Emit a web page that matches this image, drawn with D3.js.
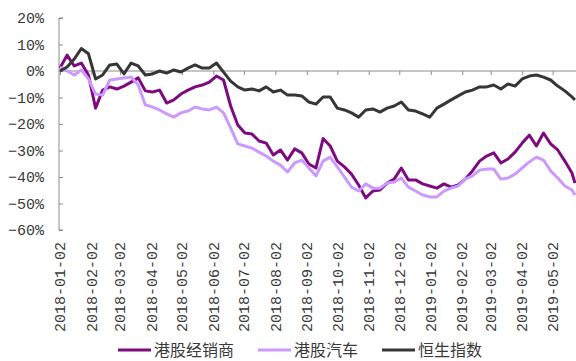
<!DOCTYPE html>
<html>
<head>
<meta charset="utf-8">
<script src="https://cdn.jsdelivr.net/npm/d3@7/dist/d3.min.js"></script>
<style>
  body { margin: 0; background: #fff; }
</style>
</head>
<body>
<svg id="root"></svg>
<script>
// weekly samples (% change since 2018-01-02)
const dates = [
  "2018-01-02","2018-01-09","2018-01-16","2018-01-23","2018-01-30","2018-02-06","2018-02-13","2018-02-20",
  "2018-02-27","2018-03-06","2018-03-13","2018-03-20","2018-03-27","2018-04-03","2018-04-10","2018-04-17",
  "2018-04-24","2018-05-01","2018-05-08","2018-05-15","2018-05-22","2018-05-29","2018-06-05","2018-06-12",
  "2018-06-19","2018-06-26","2018-07-03","2018-07-10","2018-07-17","2018-07-24","2018-07-31","2018-08-07",
  "2018-08-14","2018-08-21","2018-08-28","2018-09-04","2018-09-11","2018-09-18","2018-09-25","2018-10-02",
  "2018-10-09","2018-10-16","2018-10-23","2018-10-30","2018-11-06","2018-11-13","2018-11-20","2018-11-27",
  "2018-12-04","2018-12-11","2018-12-18","2018-12-25","2019-01-01","2019-01-08","2019-01-15","2019-01-22",
  "2019-01-29","2019-02-05","2019-02-12","2019-02-19","2019-02-26","2019-03-05","2019-03-12","2019-03-19",
  "2019-03-26","2019-04-02","2019-04-09","2019-04-16","2019-04-23","2019-04-30","2019-05-07","2019-05-14",
  "2019-05-21","2019-05-24"
]

const dealers = [
  1.1, 6.0, 1.9, 3.0, -1.5, -14.0, -7.2, -6.0, -6.8, -5.7, -4.2, -2.6, -7.5, -7.9, -7.2, -12.1,
  -10.9, -8.7, -7.2, -6.0, -5.3, -4.2, -1.9, -3.4, -13.2, -20.4, -23.4, -23.8, -26.4, -27.2, -31.7, -29.8,
  -33.6, -29.4, -30.9, -35.1, -36.6, -25.5, -28.3, -34.0, -36.2, -38.9, -43.0, -47.9, -45.3, -44.9, -42.3, -40.8,
  -36.6, -41.1, -41.1, -42.6, -43.4, -44.2, -42.6, -43.8, -43.0, -40.8, -37.7, -34.0, -32.1, -30.9, -34.7, -33.2,
  -30.6, -27.2, -24.2, -28.3, -23.4, -27.5, -29.8, -34.0, -38.5, -42.3
]

const autos = [
  1.5, 0.0, -1.5, 0.4, -3.0, -8.7, -9.1, -3.4, -3.0, -2.6, -2.3, -5.3, -12.8, -13.6, -14.7, -16.2,
  -17.4, -15.8, -15.1, -13.6, -14.3, -14.7, -13.6, -15.8, -21.5, -27.5, -28.3, -29.1, -30.6, -32.1, -34.0, -35.5,
  -38.1, -34.7, -33.6, -36.6, -39.6, -34.0, -32.5, -36.2, -40.0, -43.8, -45.3, -42.6, -44.2, -44.2, -42.3, -41.9,
  -40.4, -43.8, -45.3, -46.8, -47.5, -47.5, -45.3, -44.2, -43.4, -40.8, -39.6, -37.4, -37.0, -37.0, -40.8, -40.4,
  -38.9, -36.6, -34.3, -32.5, -33.6, -37.7, -40.4, -43.4, -44.9, -46.8
]

const hsi = [
  0.0, 1.5, 4.5, 8.5, 6.5, -3.0, -1.5, 2.3, 2.6, -1.1, 3.0, 1.9, -1.5, -1.1, 0.0, -0.8,
  0.4, -0.4, 1.1, 2.3, 1.1, 1.1, 3.0, -0.4, -3.8, -6.0, -7.2, -6.8, -7.5, -6.0, -7.9, -7.2,
  -9.1, -9.1, -9.4, -11.7, -12.5, -9.8, -9.8, -14.0, -14.7, -15.8, -17.4, -14.7, -14.3, -15.5, -14.0, -13.2,
  -11.7, -14.7, -15.1, -16.2, -17.4, -14.0, -12.5, -10.9, -9.4, -7.9, -7.2, -6.0, -6.0, -5.3, -6.8, -4.9,
  -5.7, -3.0, -1.9, -1.5, -2.3, -3.4, -5.7, -7.5, -9.8, -10.9
]

const seriesNames = ["港股经销商", "港股汽车", "恒生指数"]
const seriesColors = ["#7e0a80", "#cc99ff", "#363636"]

const monthTicks = [
  "2018-01-02","2018-02-02","2018-03-02","2018-04-02","2018-05-02","2018-06-02","2018-07-02","2018-08-02",
  "2018-09-02","2018-10-02","2018-11-02","2018-12-02","2019-01-02","2019-02-02","2019-03-02","2019-04-02",
  "2019-05-02"
]
const yTicks = [20, 10, 0, -10, -20, -30, -40, -50, -60]

const W = 576, H = 361
const svg = d3.select("#root").attr("width", W).attr("height", H)

const parse = d3.timeParse("%Y-%m-%d")
const xDates = dates.map(parse)

const x = d3.scaleTime()
  .domain([parse("2018-01-02"), parse("2019-05-24")])
  .range([60, 575])
const y = d3.scaleLinear().domain([-60, 20]).range([230, 18])

const axisColor = "#8c8c8c"
const textColor = "#3a3a3a"
const mono = "'Liberation Mono', 'DejaVu Sans Mono', monospace"

// y axis with inward ticks
const yAxis = svg.append("g").attr("transform", "translate(59,0)")
  .call(d3.axisRight(y).tickValues(yTicks).tickSize(4).tickFormat(""))
yAxis.select(".domain").attr("stroke", axisColor).attr("d", `M4,${y(20)}H0V${y(-60)}H4`)
yAxis.selectAll(".tick line").attr("stroke", axisColor)

svg.append("g").selectAll("text")
  .data(yTicks)
  .join("text")
  .attr("x", 44)
  .attr("y", d => y(d))
  .attr("dy", "0.35em")
  .attr("text-anchor", "end")
  .attr("font-family", mono)
  .attr("font-size", 15)
  .attr("fill", textColor)
  .text(d => (d < 0 ? "\u2212" + Math.abs(d) : d) + "%")

// x axis sits on the 0% line, ticks pointing down
const xAxis = svg.append("g").attr("transform", `translate(0,${y(0)})`)
  .call(d3.axisBottom(x).tickValues(monthTicks.map(parse)).tickSize(4).tickFormat(""))
xAxis.select(".domain").attr("stroke", axisColor).attr("d", `M59,0H576`)
xAxis.selectAll(".tick line").attr("stroke", axisColor)

// date labels at the bottom, rotated
svg.append("g").selectAll("text")
  .data(monthTicks)
  .join("text")
  .attr("transform", d => `translate(${x(parse(d))},242) rotate(-90)`)
  .attr("dy", "0.35em")
  .attr("text-anchor", "end")
  .attr("font-family", mono)
  .attr("font-size", 15)
  .attr("fill", textColor)
  .text(d => d)

// lines
const line = d3.line()
  .x((d, i) => x(xDates[i]))
  .y(d => y(d))

const allSeries = [dealers, autos, hsi]
allSeries.forEach((s, i) => {
  svg.append("path")
    .datum(s)
    .attr("fill", "none")
    .attr("stroke", seriesColors[i])
    .attr("stroke-width", 3)
    .attr("stroke-linejoin", "round")
    .attr("d", line)
})

// legend
const legendX = [118, 258, 382]
const legend = svg.append("g")
seriesNames.forEach((name, i) => {
  legend.append("line")
    .attr("x1", legendX[i]).attr("x2", legendX[i] + 33)
    .attr("y1", 350).attr("y2", 350)
    .attr("stroke", seriesColors[i])
    .attr("stroke-width", 3)
  legend.append("text")
    .attr("x", legendX[i] + 36)
    .attr("y", 350)
    .attr("dy", "0.36em")
    .attr("font-family", "'Noto Sans CJK SC', sans-serif")
    .attr("font-size", 16)
    .attr("fill", textColor)
    .text(name)
})
</script>
</body>
</html>
